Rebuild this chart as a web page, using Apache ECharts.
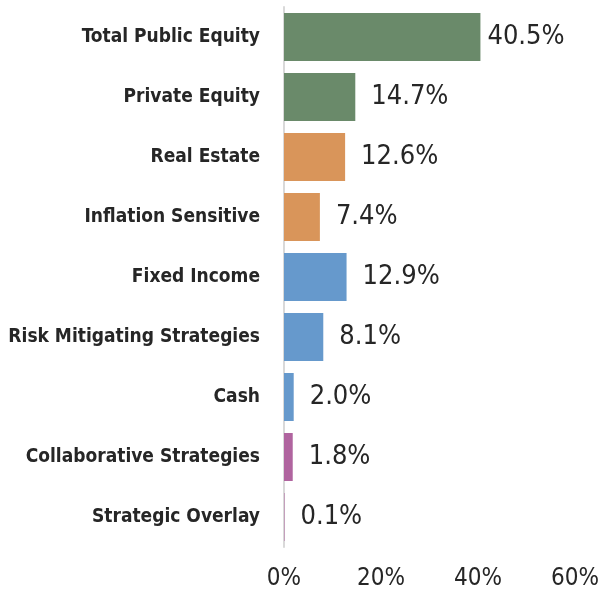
<!DOCTYPE html>
<html>
<head>
<meta charset="UTF-8">
<script src="https://cdn.jsdelivr.net/npm/echarts@6/dist/echarts.min.js"></script>
<style>
  html, body { margin: 0; padding: 0; background: #fff; }
</style>
</head>
<body>
<div id="chartmain" style="width:601px; height:589px;"></div>
<script type="text/javascript">
  // asset classes, top to bottom
  var categories = ['Total Public Equity', 'Private Equity', 'Real Estate', 'Inflation Sensitive',
    'Fixed Income', 'Risk Mitigating Strategies', 'Cash', 'Collaborative Strategies', 'Strategic Overlay'];
  var values = [40.5, 14.7, 12.6, 7.4, 12.9, 8.1, 2.0, 1.8, 0.1];
  var barColors = ['#6a8a6a', '#6a8a6a', '#d9955a', '#d9955a', '#6699cc', '#6699cc', '#6699cc', '#b0649f', '#b0649f'];
  var xTicks = [0, 20, 40, 60];

  var data = [];
  for (var i = 0; i < values.length; i++) {
    var item = { value: values[i], itemStyle: { color: barColors[i] } };
    if (i === 0) item.label = { distance: 7 };  // the long bar's label sits tight
    data.push(item);
  }

  var condensed = '"DejaVu Sans Condensed", "DejaVu Sans", sans-serif';

  var option = {
    animation: false,
    grid: { left: 284, right: 26, top: 7, bottom: 42, outerBoundsMode: 'none' },
    xAxis: {
      type: 'value',
      min: xTicks[0],
      max: xTicks[xTicks.length - 1],
      interval: 20,
      splitLine: { show: false },
      axisLine: { show: false },
      axisTick: { show: false },
      axisLabel: {
        formatter: '{value}%',
        color: '#262626',
        fontFamily: condensed,
        fontSize: 24,
        margin: 20
      }
    },
    yAxis: {
      type: 'category',
      inverse: true,
      data: categories,
      axisLine: { show: true, lineStyle: { color: '#d9d9d9', width: 2 } },
      axisTick: { show: false },
      axisLabel: {
        color: '#262626',
        fontFamily: condensed,
        fontWeight: 'bold',
        fontSize: 19,
        margin: 24
      }
    },
    series: [{
      type: 'bar',
      data: data,
      barCategoryGap: '20%',
      label: {
        show: true,
        position: 'right',
        distance: 16,
        formatter: function (p) { return p.value.toFixed(1) + '%'; },
        color: '#262626',
        fontFamily: condensed,
        fontSize: 27
      }
    }]
  };

  var myChart = echarts.init(document.getElementById('chartmain'));
  myChart.setOption(option);
</script>
</body>
</html>
